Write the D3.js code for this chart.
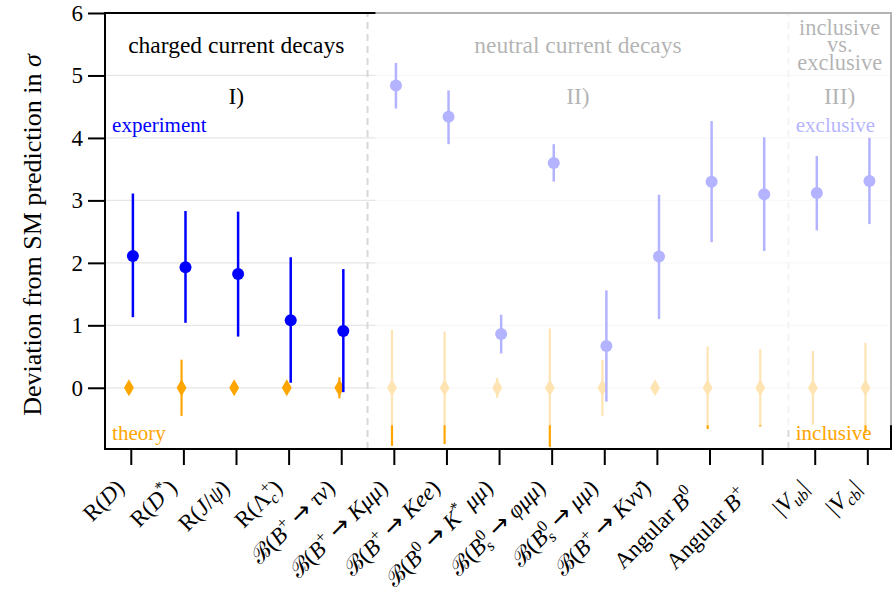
<!DOCTYPE html>
<html lang="en">
<head>
<meta charset="UTF-8" />
<title>Deviation from SM prediction</title>
<script src="https://d3js.org/d3.v7.min.js"></script>
<style>
  body { margin: 0; background: white; }
  svg { font-family: "Liberation Serif", "DejaVu Serif", serif; }
</style>
</head>
<body>
<svg id="chart" width="894" height="601"></svg>
<script>
// categories, $...$ marks math (letters italic), ^ superscript, _ subscript
const categories = [
  "R($D$)", "R($D^*$)", "R($J/ψ$)", "R(Λ$_c^+$)", "ℬ($B^+$ → $τν$)",
  "ℬ($B^+$ → $Kμμ$)", "ℬ($B^+$ → $Kee$)", "ℬ($B^0$ → $K^* μμ$)", "ℬ($B_s^0$ → $φμμ$)", "ℬ($B_s^0$ → $μμ$)",
  "ℬ($B^+$ → $Kνν̄$)", "Angular $B^0$\u00a0\u00a0", "Angular $B^+$\u00a0\u00a0", "$|V_{ub}|$", "$|V_{cb}|$"
];
const expValue = [2.11, 1.93, 1.82, 1.08, 0.91, 4.84, 4.34, 0.86, 3.60, 0.67, 2.10, 3.30, 3.10, 3.12, 3.31];
const expHigh  = [3.11, 2.83, 2.82, 2.09, 1.90, 5.20, 4.76, 1.17, 3.90, 1.56, 3.09, 4.27, 4.01, 3.71, 4.00];
const expLow   = [1.13, 1.04, 0.82, 0.08, -0.07, 4.47, 3.90, 0.55, 3.30, -0.22, 1.10, 2.33, 2.19, 2.52, 2.62];
const theoryValue = [0, 0, 0, 0, 0, 0, 0, 0, 0, 0, 0, 0, 0, 0, 0];
const theoryErr   = [0, 0.45, 0, 0, 0.17, 0.93, 0.90, 0.16, 0.95, 0.45, 0, 0.66, 0.62, 0.59, 0.72];
const yTicks = [0, 1, 2, 3, 4, 5, 6];
const regionTitles = ["charged current decays", "neutral current decays", "inclusive\nvs.\nexclusive"];
const regionNumbers = ["I)", "II)", "III)"];
const regionBounds = [-0.49, 4.5, 12.5, 14.45];

const blue = "#0000ff", orange = "#ffa500";
const svg = d3.select("#chart");
const x = d3.scaleLinear().domain([-0.49, 14.45]).range([105, 891]);
const y = d3.scaleLinear().domain([-0.98, 6]).range([449, 13]);

// grid
svg.append("g").selectAll("line").data(yTicks).join("line")
  .attr("x1", x(-0.49)).attr("x2", x(14.45))
  .attr("y1", d => y(d)).attr("y2", d => y(d))
  .attr("stroke", "#e6e6e6").attr("stroke-width", 1.2);

// region separators
svg.append("g").selectAll("line").data([4.5, 12.5]).join("line")
  .attr("x1", d => x(d)).attr("x2", d => x(d))
  .attr("y1", y(-0.98)).attr("y2", y(6))
  .attr("stroke", "#d8d8d8").attr("stroke-width", 2).attr("stroke-dasharray", "7,5");

const idx = d3.range(categories.length);

// theory
const th = svg.append("g");
th.selectAll("line").data(idx.filter(i => theoryErr[i] > 0)).join("line")
  .attr("x1", i => x(i - 0.035)).attr("x2", i => x(i - 0.035))
  .attr("y1", i => y(theoryValue[i] - theoryErr[i])).attr("y2", i => y(theoryValue[i] + theoryErr[i]))
  .attr("stroke", orange).attr("stroke-width", 2.2);
th.selectAll("path").data(idx).join("path")
  .attr("d", d3.symbol(d3.symbolDiamond, 85))
  .attr("transform", i => `translate(${x(i - 0.035)},${y(theoryValue[i])})`)
  .attr("fill", orange);

// experiment
const ex = svg.append("g");
ex.selectAll("line").data(idx).join("line")
  .attr("x1", i => x(i + 0.04)).attr("x2", i => x(i + 0.04))
  .attr("y1", i => y(expLow[i])).attr("y2", i => y(expHigh[i]))
  .attr("stroke", blue).attr("stroke-width", 2.5);
ex.selectAll("circle").data(idx).join("circle")
  .attr("cx", i => x(i + 0.04)).attr("cy", i => y(expValue[i]))
  .attr("r", 6).attr("fill", blue);

// annotations
const centers = [0, 1, 2].map(k => (regionBounds[k] + regionBounds[k + 1]) / 2);
regionTitles.forEach((t, k) => {
  const lines = t.split("\n");
  const txt = svg.append("text").attr("text-anchor", "middle").attr("fill", "#000");
  if (lines.length === 1) {
    txt.attr("font-size", 23.5).attr("x", x(centers[k])).attr("y", y(5.36)).text(t);
  } else {
    txt.attr("font-size", 22.5);
    lines.forEach((l, j) => txt.append("tspan").attr("x", x(centers[k]))
      .attr("y", y(5.65) + j * 17.6).text(l));
  }
});
regionNumbers.forEach((t, k) => {
  svg.append("text").attr("text-anchor", "middle").attr("font-size", 23.5)
    .attr("x", x(centers[k])).attr("y", y(4.54)).text(t);
});
svg.append("text").attr("x", x(-0.355)).attr("y", y(4.1)).attr("font-size", 21).attr("fill", blue).text("experiment");
svg.append("text").attr("x", x(-0.355)).attr("y", y(-0.84)).attr("font-size", 21).attr("fill", orange).text("theory");
svg.append("text").attr("x", x(12.64)).attr("y", y(4.1)).attr("font-size", 21).attr("fill", blue).text("exclusive");
svg.append("text").attr("x", x(12.64)).attr("y", y(-0.84)).attr("font-size", 21).attr("fill", orange).text("inclusive");

// axes
const yAxis = svg.append("g").attr("transform", `translate(${x(-0.49)},0)`)
  .call(d3.axisLeft(y).tickValues(yTicks).tickSize(17).tickPadding(5).tickFormat(d3.format("d")));
yAxis.select(".domain").remove();
yAxis.selectAll(".tick line").attr("stroke-width", 2);
yAxis.selectAll(".tick text").attr("font-size", 23).attr("font-family", "Liberation Serif, serif").attr("fill", "#000");

const xAxis = svg.append("g").attr("transform", `translate(0,${y(-0.98)})`)
  .call(d3.axisBottom(x).tickValues(idx).tickSize(16).tickFormat(""));
xAxis.select(".domain").remove();
xAxis.selectAll(".tick line").attr("stroke-width", 2);

// spines
svg.append("rect").attr("x", x(-0.49)).attr("y", y(6)).attr("width", x(14.45) - x(-0.49)).attr("height", y(-0.98) - y(6))
  .attr("fill", "none").attr("stroke", "#000").attr("stroke-width", 2);

// y label
const yl = svg.append("text").attr("transform", `translate(41,${(y(6) + y(-0.98)) / 2 + 4}) rotate(-90)`)
  .attr("text-anchor", "middle").attr("font-size", 26);
yl.append("tspan").text("Deviation from SM prediction in ");
yl.append("tspan").attr("font-style", "italic").text("σ");

// fade overlay for regions II and III
svg.append("rect").attr("x", x(4.65)).attr("y", y(6) - 2)
  .attr("width", x(14.45) + 2 - x(4.65)).attr("height", y(-0.6) - y(6) + 2)
  .attr("fill", "#fff").attr("fill-opacity", 0.7);

// x tick labels
function parseLabel(str) {
  const segs = [];
  let math = false, i = 0;
  while (i < str.length) {
    const c = str[i];
    if (c === "$") { math = !math; i++; continue; }
    if (math && (c === "^" || c === "_")) {
      let content;
      if (str[i + 1] === "{") { const j = str.indexOf("}", i); content = str.slice(i + 2, j); i = j + 1; }
      else { content = str[i + 1]; i += 2; }
      segs.push({ text: content, pos: c === "^" ? "sup" : "sub", math });
      continue;
    }
    const last = segs[segs.length - 1];
    if (last && last.pos === "base" && last.math === math) last.text += c;
    else segs.push({ text: c, pos: "base", math });
    i++;
  }
  return segs;
}
function splitRuns(s, math) {
  const runs = [];
  const kind = ch => ch === "→" ? "arrow" : (math && /[A-Za-zα-ω\u0304]/.test(ch)) ? "it" : "up";
  for (const ch of s) {
    const k = kind(ch);
    const last = runs[runs.length - 1];
    if (last && last.k === k && k !== "arrow") last.t += ch; else runs.push({ t: ch, k });
  }
  return runs;
}
function drawLabel(sel, str, fs) {
  let shift = 0, prev = null;
  parseLabel(str).forEach(seg => {
    const size = seg.pos === "base" ? fs : fs * 0.7;
    const target = seg.pos === "sup" ? -0.4 * fs : seg.pos === "sub" ? 0.22 * fs : 0;
    const runs = splitRuns(seg.text, seg.math);
    const stacked = prev && prev.pos !== "base" && seg.pos !== "base" && prev.pos !== seg.pos;
    let width = 0;
    runs.forEach((r, k) => {
      const ts = sel.append("tspan").text(r.t).attr("font-size", size)
        .attr("font-style", r.k === "it" ? "italic" : "normal");
      if (r.k === "arrow") ts.attr("font-family", "DejaVu Sans").attr("font-size", size * 1.05);
      if (k === 0) {
        if (target !== shift) ts.attr("dy", target - shift);
        if (stacked) ts.attr("dx", -prev.width);
        shift = target;
      }
      width += ts.node().getComputedTextLength();
    });
    prev = { pos: seg.pos, width };
  });
}
categories.forEach((lab, i) => {
  const t = svg.append("text").attr("text-anchor", "end")
    .attr("transform", `translate(${x(i) - 5},489) rotate(-45)`);
  drawLabel(t, lab, 23);
});
</script>
</body>
</html>
